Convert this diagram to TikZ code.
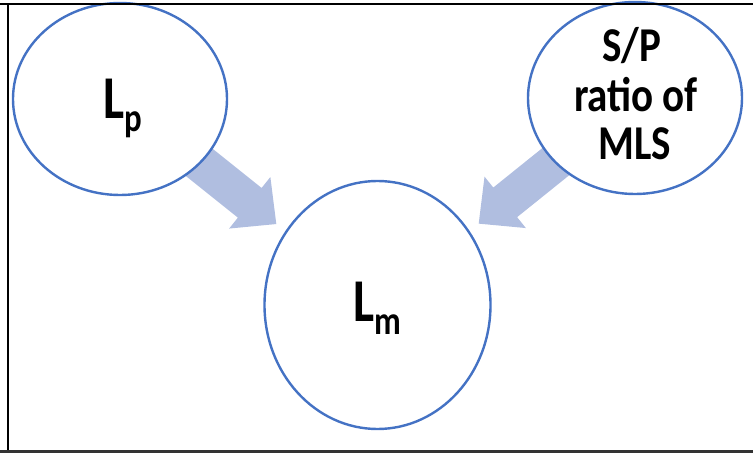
\documentclass[tikz,border=0pt]{standalone}
\usepackage{graphicx}
\usepackage{fontspec}
\setmainfont{Carlito}
\usetikzlibrary{shapes.geometric,calc,backgrounds}
\definecolor{ringblue}{HTML}{4472C4}
\definecolor{arrowfill}{HTML}{B0BEE0}
\definecolor{framegray}{HTML}{333333}
\tikzset{
  bubble/.style={ellipse, draw=ringblue, line width=2.4bp, fill=white, inner sep=0pt},
  lbl/.style={inner sep=0pt, anchor=base, font=\bfseries},
  blockarrow/.style={fill=arrowfill, draw=none},
}
\newcommand{\bigL}[1]{\scalebox{1}[1.22]{\fontsize{50}{50}\selectfont L\raisebox{-10.5pt}{\fontsize{33}{33}\selectfont #1}}}
\newcommand{\spline}[1]{\scalebox{1.03}[1.22]{\fontsize{40}{40}\selectfont #1}}
\begin{document}
\begin{tikzpicture}[x=1bp, y=-1bp]
\useasboundingbox (0,0) rectangle (753,453);
% ellipses
\node[bubble, minimum width=214bp, minimum height=192bp] (Lp) at (120,99) {};
\node[bubble, minimum width=214bp, minimum height=192bp] (SP) at (635,98) {};
\node[bubble, minimum width=226bp, minimum height=248bp] (Lm) at (377.5,305) {};
% block arrows (behind ellipses)
\begin{scope}[on background layer]
  \coordinate (t1) at ($(Lp)!0.607!(Lm)$);
  \coordinate (b1) at ($(t1)!34bp!(Lp)$);
  \coordinate (s1) at ($(Lp)!0.3!(Lm)$);
  \fill[blockarrow] ($(s1)!19bp!90:(t1)$) -- ($(b1)!19bp!90:(t1)$) -- ($(b1)!33bp!90:(t1)$)
     -- (t1) -- ($(b1)!33bp!-90:(t1)$) -- ($(b1)!19bp!-90:(t1)$) -- ($(s1)!19bp!-90:(t1)$) -- cycle;
  \coordinate (t2) at ($(SP)!0.607!(Lm)$);
  \coordinate (b2) at ($(t2)!34bp!(SP)$);
  \coordinate (s2) at ($(SP)!0.3!(Lm)$);
  \fill[blockarrow] ($(s2)!19bp!90:(t2)$) -- ($(b2)!19bp!90:(t2)$) -- ($(b2)!33bp!90:(t2)$)
     -- (t2) -- ($(b2)!33bp!-90:(t2)$) -- ($(b2)!19bp!-90:(t2)$) -- ($(s2)!19bp!-90:(t2)$) -- cycle;
\end{scope}
% texts
\node[lbl] (tLp) at (122.5,118.3) {\bigL{p}};
\node[lbl] (tLm) at (377.5,321.7) {\bigL{m}};
\node[lbl] (sp1) at (632,62) {\spline{S/P}};
\node[lbl] (sp2) at (636,112) {\spline{ratio of}};
\node[lbl] (sp3) at (635,160) {\spline{MLS}};
% frame
\draw[line width=2bp, black] (0,3.7) -- (753,3.7);
\draw[line width=2bp, black] (8.3,3.7) -- (8.3,451);
\draw[line width=3bp, framegray] (0,451.5) -- (753,451.5);
\end{tikzpicture}
\end{document}
